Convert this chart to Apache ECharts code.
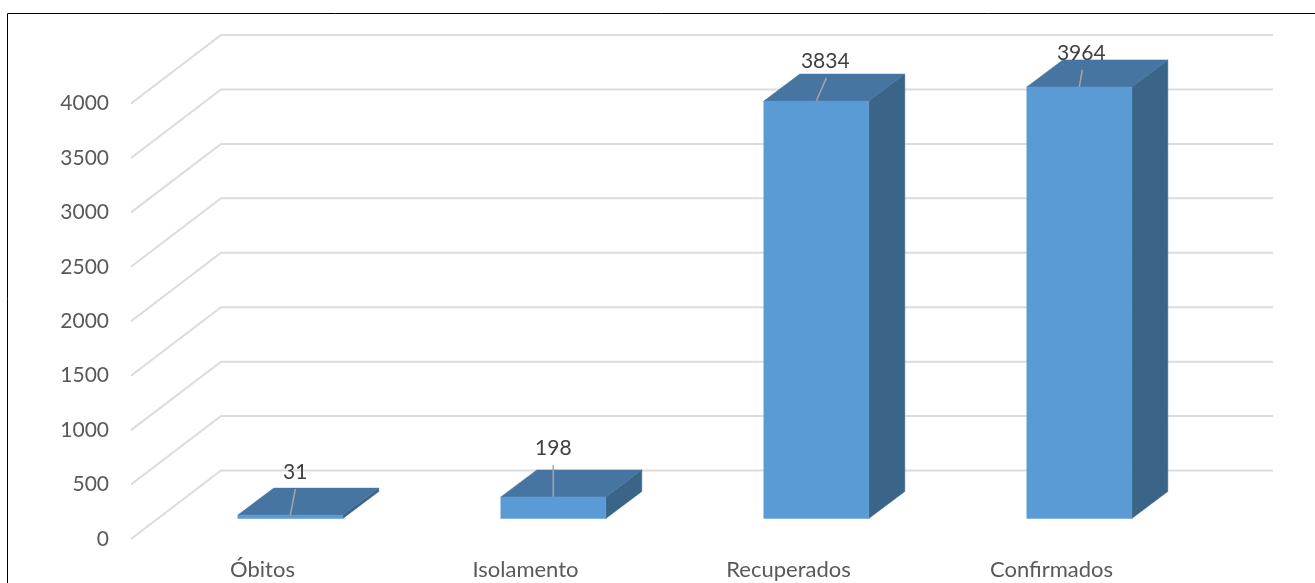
<!DOCTYPE html>
<html>
<head>
<meta charset="utf-8">
<style>html,body{margin:0;padding:0;background:#fff}#chart{width:1315px;height:583px}</style>
<script src="https://cdn.jsdelivr.net/npm/echarts@6/dist/echarts.min.js"></script>
</head>
<body>
<div id="chart"></div>
<script>
const categories = ['Óbitos', 'Isolamento', 'Recuperados', 'Confirmados'];
const values = [31, 198, 3834, 3964];
const gridTicks = [0, 500, 1000, 1500, 2000, 2500, 3000, 3500, 4000];

// 3D look: offsets of the floor/wall and of the bar depth, in pixels
const WALL = { dx: 90, dy: -68.5 };
const BAR_FRONT = { dx: 27.8, dy: -20.5 };
const BAR_DEPTH = { dx: 36, dy: -27 };
const BAR_W = 105;
// leader line end and label centre, relative to the bar's front-top centre
const leader = [[5, -26], [0, -32], [10, -23], [3, -17]];
const labelAt = [[5, -43], [0, -49], [9, -40], [2, -34]];

const chart = echarts.init(document.getElementById('chart'), null, { renderer: 'canvas' });
const font = 'Lato';

function poly(points, fill, z2) {
  return { type: 'polygon', z2: z2, shape: { points: points }, style: { fill: fill, stroke: fill, lineWidth: 0.5 } };
}

chart.setOption({
  animation: false,
  backgroundColor: '#fff',
  graphic: [{
    type: 'polyline', silent: true, z: -10,
    shape: { points: [[7.5, 583], [7.5, 13.5], [1315, 13.5]] },
    style: { fill: 'none', stroke: '#000', lineWidth: 1 }
  }],
  grid: { left: 131, top: 103.5, width: 1052, height: 435.5, containLabel: false },
  xAxis: {
    type: 'category', data: categories,
    axisLine: { show: false }, axisTick: { show: false }, splitLine: { show: false },
    axisLabel: { color: '#595959', fontFamily: font, fontSize: 22, margin: 20 }
  },
  yAxis: {
    type: 'value', min: 0, max: 4000, interval: 500,
    axisLine: { show: false }, axisTick: { show: false }, splitLine: { show: false },
    axisLabel: {
      color: '#595959', fontFamily: font, fontSize: 21, margin: 22,
      padding: [5, 0, 0, 0],
      formatter: v => String(v)
    }
  },
  series: [
    {
      type: 'custom', coordinateSystem: 'cartesian2d', silent: true, z: 1,
      data: gridTicks.map(v => [0, v]),
      encode: { x: 0, y: 1 },
      renderItem(params, api) {
        const y = api.coord([0, api.value(1)])[1];
        const x0 = params.coordSys.x, x1 = x0 + params.coordSys.width;
        return {
          type: 'polyline',
          shape: { points: [[x0, y], [x0 + WALL.dx, y + WALL.dy], [x1 + WALL.dx, y + WALL.dy]] },
          style: { fill: 'none', stroke: '#DCDCDC', lineWidth: 2 }
        };
      }
    },
    {
      type: 'custom', coordinateSystem: 'cartesian2d', silent: true, z: 2,
      data: values.map((v, i) => [i, v]),
      encode: { x: 0, y: 1 },
      renderItem(params, api) {
        const i = params.dataIndex;
        const top = api.coord([i, api.value(1)]);
        const base = api.coord([i, 0]);
        const l = top[0] - BAR_W / 2 + BAR_FRONT.dx, r = l + BAR_W;
        const yt = top[1] + BAR_FRONT.dy, yb = base[1] + BAR_FRONT.dy;
        const d = BAR_DEPTH;
        const cx = (l + r) / 2;
        const lead = leader[i], lab = labelAt[i];
        return {
          type: 'group',
          children: [
            poly([[r, yt], [r + d.dx, yt + d.dy], [r + d.dx, yb + d.dy], [r, yb]], '#3A6488', 1),
            poly([[l, yt], [l + d.dx, yt + d.dy], [r + d.dx, yt + d.dy], [r, yt]], '#4675A2', 2),
            poly([[l, yt], [r, yt], [r, yb], [l, yb]], '#5B9BD5', 3),
            {
              type: 'line', z2: 4,
              shape: { x1: cx, y1: yt, x2: cx + lead[0], y2: yt + lead[1] },
              style: { stroke: '#A6A6A6', lineWidth: 1.5 }
            },
            {
              type: 'text', z2: 5,
              style: {
                x: cx + lab[0], y: yt + lab[1], text: String(api.value(1)),
                align: 'center', verticalAlign: 'middle',
                fill: '#404040', fontFamily: font, fontSize: 21
              }
            }
          ]
        };
      }
    }
  ]
});
</script>
</body>
</html>
